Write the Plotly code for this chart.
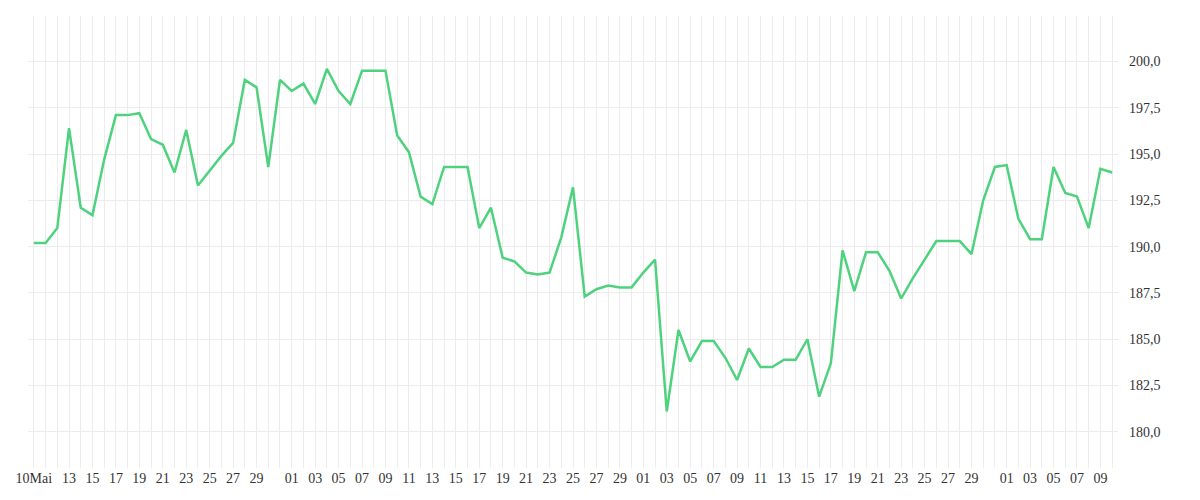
import pandas as pd
import plotly.graph_objects as go

start_date = "2021-05-10"
values = [190.2, 190.2, 191.0, 196.4, 192.1, 191.7, 194.7, 197.1, 197.1, 197.2,
          195.8, 195.5, 194.0, 196.3, 193.3, 194.1, 194.9, 195.6, 199.0, 198.6, 194.3,
          199.0, 198.4, 198.8, 197.7, 199.6, 198.4, 197.7, 199.5, 199.5, 199.5,
          196.0, 195.1, 192.7, 192.3, 194.3, 194.3, 194.3, 191.0, 192.1, 189.4,
          189.2, 188.6, 188.5, 188.6, 190.5, 193.2, 187.3, 187.7, 187.9, 187.8,
          187.8, 188.6, 189.3, 181.1, 185.5, 183.8, 184.9, 184.9, 184.0, 182.8,
          184.5, 183.5, 183.5, 183.9, 183.9, 185.0, 181.9, 183.7, 189.8, 187.6,
          189.7, 189.7, 188.7, 187.2, 188.3, 189.3, 190.3, 190.3, 190.3, 189.6,
          192.5, 194.3, 194.4, 191.5, 190.4, 190.4, 194.3, 192.9, 192.7, 191.0, 194.2, 194.0]
dates = pd.date_range(start_date, periods=len(values), freq="D")

# tick labels: odd days (no 31st), first one gets the month
tick_dates = [d for d in dates[2:] if d.day % 2 == 1 and d.day != 31 and d < pd.Timestamp("2021-08-10")]
tick_dates = [dates[0]] + tick_dates
tick_vals = [d.strftime("%Y-%m-%d") for d in tick_dates]
tick_text = ["10Mai"] + [d.strftime("%d") for d in tick_dates[1:]]

fig = go.Figure(go.Scatter(x=[d.strftime("%Y-%m-%d") for d in dates], y=values, mode="lines",
                           line=dict(color="#4fd27e", width=2.5)))

fig.update_layout(
    width=1200, height=500,
    margin=dict(l=14, r=90, t=8, b=40),
    plot_bgcolor="white", paper_bgcolor="white",
    showlegend=False,
    separators=",.",
    font=dict(family="Liberation Serif", size=14, color="#333"),
)
fig.update_xaxes(
    type="date", autorange=False,
    range=["2021-05-09 12:00", "2021-08-10 12:00"],
    tickmode="array", tickvals=tick_vals, ticktext=tick_text, tickangle=0,
    ticklabeloverflow="allow",
    showgrid=True, gridcolor="#ececec",
    minor=dict(dtick=86400000, showgrid=True, gridcolor="#ececec",
               tick0="2021-05-10"),
    zeroline=False, showline=False,
)
fig.update_yaxes(
    side="right", autorange=False, range=[178.05, 202.45], dtick=2.5, tick0=180,
    tickformat=".1f", showgrid=True, gridcolor="#ececec",
    zeroline=False, ticklabelstandoff=10,
)
fig.write_html("out.html")
